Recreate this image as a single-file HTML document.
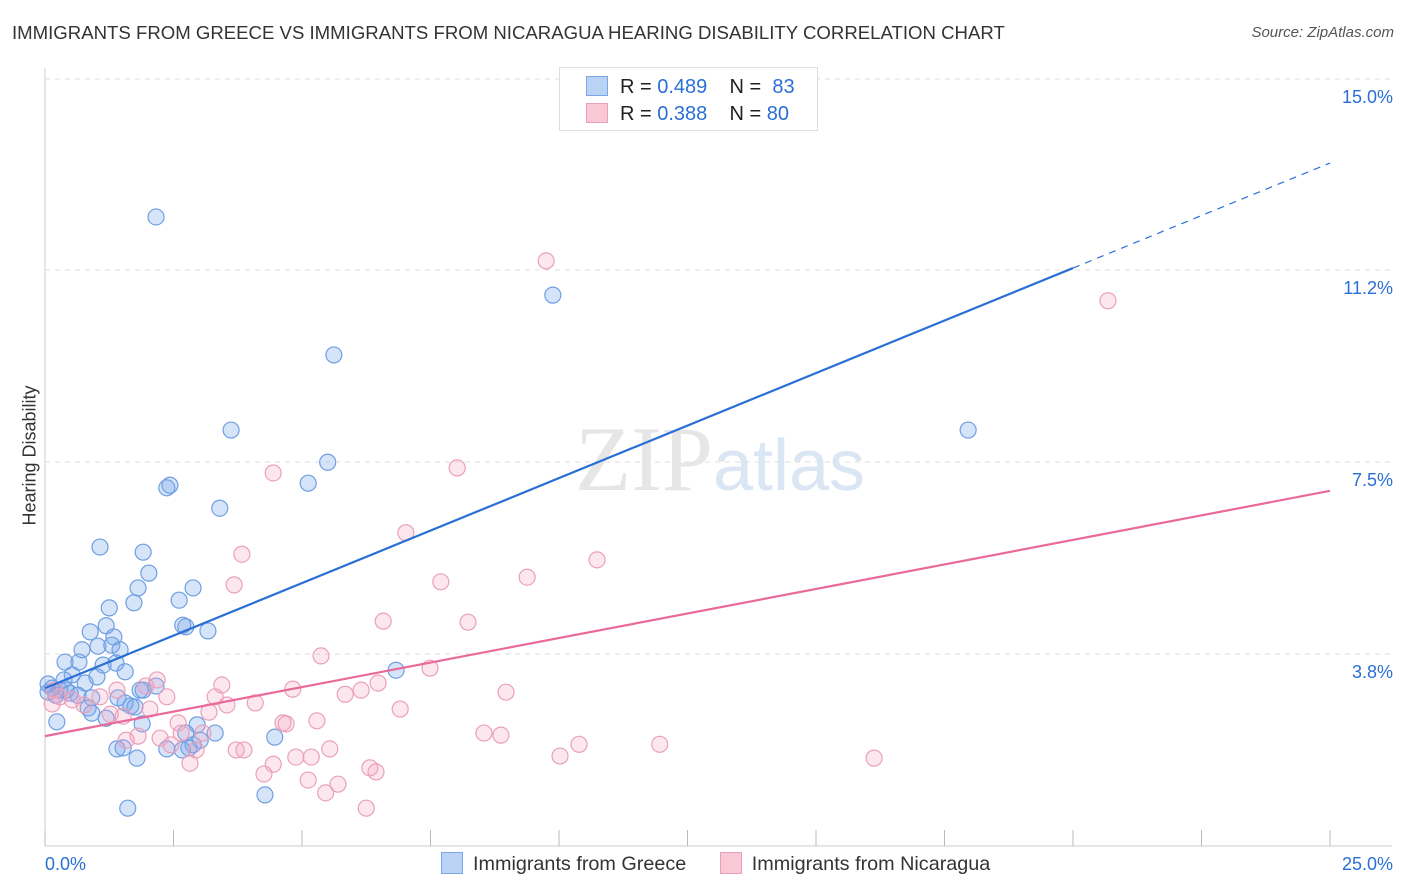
<!DOCTYPE html>
<html><head><meta charset="utf-8"><style>
body{margin:0;background:#fff;font-family:"Liberation Sans",sans-serif;}
#wrap{position:relative;width:1406px;height:892px;overflow:hidden;}
.t{position:absolute;white-space:nowrap;}
</style></head><body>
<div id="wrap">
<div class="t" style="left:12px;top:22px;font-size:18.6px;color:#333;">IMMIGRANTS FROM GREECE VS IMMIGRANTS FROM NICARAGUA HEARING DISABILITY CORRELATION CHART</div>
<div class="t" style="right:12px;top:24px;font-size:15px;color:#555;font-style:italic;">Source: ZipAtlas.com</div>
<div class="t" style="left:-40px;top:445px;font-size:18px;color:#333;transform:rotate(-90deg);">Hearing Disability</div>
<svg id="svg" width="1406" height="892" style="position:absolute;left:0;top:0"></svg>
<div style="position:absolute;left:559px;top:67px;width:257px;height:62px;border:1px solid #ddd;background:#fff;">
 <div style="position:absolute;left:26px;top:8px;font-size:20px;color:#222;"><span style="display:inline-block;width:20px;height:18px;background:#b9d2f5;border:1px solid #7aa6e6;vertical-align:-3px;margin-right:12px"></span>R = <span style="color:#2a6fd6">0.489</span>&nbsp;&nbsp;&nbsp; N = &nbsp;<span style="color:#2a6fd6">83</span></div>
 <div style="position:absolute;left:26px;top:35px;font-size:20px;color:#222;"><span style="display:inline-block;width:20px;height:18px;background:#f8c8d6;border:1px solid #eba0b8;vertical-align:-3px;margin-right:12px"></span>R = <span style="color:#2a6fd6">0.388</span>&nbsp;&nbsp;&nbsp; N = <span style="color:#2a6fd6">80</span></div>
</div>
<div class="t" style="left:441px;top:852px;font-size:19.8px;color:#333;">
<span><span style="display:inline-block;width:20px;height:20px;background:#b9d2f5;border:1px solid #7aa6e6;vertical-align:-4px;margin-right:10px"></span>Immigrants from Greece</span>
<span style="margin-left:28px"><span style="display:inline-block;width:20px;height:20px;background:#f8c8d6;border:1px solid #eba0b8;vertical-align:-4px;margin-right:10px"></span>Immigrants from Nicaragua</span>
</div>
</div>
<script>
const greeceX=[2.16,9.88,5.62,17.96,3.62,5.50,2.43,5.12,2.37,3.40,1.07,1.91,2.02,1.81,2.88,2.61,1.73,1.25,1.19,2.68,2.74,3.17,0.88,1.34,1.03,0.72,1.30,1.46,0.39,0.66,1.13,1.38,6.83,1.56,0.53,1.01,0.37,0.78,0.14,0.29,0.06,0.21,0.49,0.64,0.41,2.16,1.85,1.91,1.42,0.91,1.56,1.75,1.67,0.84,0.91,1.19,1.89,2.96,0.23,2.74,3.31,4.47,3.02,2.88,2.80,2.37,1.40,1.52,2.67,1.79,4.28,1.61,0.06];
const greeceY=[12.31,10.78,9.61,8.14,8.14,7.51,7.06,7.10,7.01,6.61,5.85,5.75,5.34,5.05,5.05,4.81,4.76,4.66,4.31,4.32,4.29,4.21,4.19,4.09,3.91,3.84,3.93,3.84,3.60,3.60,3.54,3.58,3.44,3.41,3.35,3.31,3.25,3.19,3.09,3.05,3.01,2.95,2.99,2.95,3.05,3.13,3.05,3.05,2.90,2.90,2.80,2.72,2.74,2.70,2.60,2.50,2.39,2.37,2.43,2.21,2.21,2.13,2.07,1.98,1.92,1.90,1.90,1.92,1.88,1.72,1.00,0.74,3.17];
const nicX=[9.75,20.68,8.02,4.44,7.02,3.83,10.74,9.38,7.70,3.68,6.58,8.23,5.37,7.49,6.48,3.44,8.97,4.82,5.84,6.15,2.18,1.96,3.31,2.37,1.40,1.07,3.54,4.09,6.91,3.19,2.04,1.52,1.27,0.29,0.53,0.76,0.14,2.59,4.63,5.29,4.69,3.07,1.81,2.65,2.24,1.58,8.54,8.87,10.39,11.96,3.72,3.87,5.54,2.94,2.45,4.88,5.18,4.44,2.82,10.02,16.13,6.32,6.44,4.26,5.12,5.70,5.46,6.25,0.18];
const nicY=[11.45,10.67,7.40,7.30,6.13,5.71,5.60,5.26,5.17,5.11,4.40,4.38,3.72,3.48,3.19,3.15,3.01,3.07,2.97,3.05,3.25,3.13,2.92,2.92,3.05,2.92,2.76,2.80,2.68,2.62,2.68,2.54,2.58,2.92,2.86,2.76,2.78,2.41,2.41,2.45,2.39,2.21,2.15,2.21,2.11,2.07,2.21,2.17,1.99,1.99,1.88,1.88,1.90,1.88,1.98,1.74,1.74,1.60,1.62,1.76,1.72,1.53,1.45,1.41,1.29,1.21,1.04,0.74,3.05];
const yTicks=[3.8,7.5,11.2,15.0];
const yTickLabels=["3.8%","7.5%","11.2%","15.0%"];
const blueLine=[3.09,0.4110]; // intercept, slope
const pinkLine=[2.15,0.192];
const blueSolidEnd=20;
const X=v=>45+v*51.4, Y=v=>846-v*51.1;
const NS="http://www.w3.org/2000/svg", svg=document.getElementById('svg');
function mk(t,a){const e=document.createElementNS(NS,t);for(const k in a)e.setAttribute(k,a[k]);svg.appendChild(e);return e;}
const yPix=[654,462,270,79];
yTicks.forEach((v,i)=>{
 const g=mk('line',{x1:45,x2:1392,y1:yPix[i],y2:yPix[i],stroke:'#ddd','stroke-dasharray':'5,5'});
 
 
 const t=mk('text',{x:1393,y:yPix[i]+24,'text-anchor':'end','font-size':18,fill:'#2a6fd6','font-family':'Liberation Sans'});
 t.textContent=yTickLabels[i];
 
 
});
const ax=mk('line',{x1:45,x2:45,y1:68,y2:846,stroke:'#ccc'});


const bx=mk('line',{x1:45,x2:1392,y1:846,y2:846,stroke:'#ccc'});


for(let i=0;i<=10;i++){const tk=mk('line',{x1:X(i*2.5),x2:X(i*2.5),y1:830,y2:846,stroke:'#bbb'});
 
 }
[["0.0%",45,'start'],["25.0%",1393,'end']].forEach(a=>{const t=mk('text',{x:a[1],y:870,'text-anchor':a[2],'font-size':18,fill:'#2a6fd6','font-family':'Liberation Sans'});t.textContent=a[0];
 
 });
const wm=mk('text',{x:720,y:490,'text-anchor':'middle','font-size':92,'font-family':'Liberation Serif',fill:'#e6e6e6'});
wm.innerHTML='ZIP<tspan font-family="Liberation Sans" fill="#dbe6f5" font-size="72">atlas</tspan>';


greeceX.forEach((x,i)=>{const c=mk('circle',{cx:X(x),cy:Y(greeceY[i]),r:8,fill:'rgba(120,165,235,0.3)',stroke:'#6f9fe2','stroke-width':1.2});
 
 });
nicX.forEach((x,i)=>{const c=mk('circle',{cx:X(x),cy:Y(nicY[i]),r:8,fill:'rgba(245,160,190,0.25)',stroke:'#eba0b8','stroke-width':1.2});
 
 });
const bl=mk('line',{x1:X(0),y1:Y(blueLine[0]),x2:X(blueSolidEnd),y2:Y(blueLine[0]+blueLine[1]*blueSolidEnd),stroke:'#2a6fd6','stroke-width':2.2});


const bd=mk('line',{x1:X(blueSolidEnd),y1:Y(blueLine[0]+blueLine[1]*blueSolidEnd),x2:X(25),y2:Y(blueLine[0]+blueLine[1]*25),stroke:'#2a6fd6','stroke-width':1.2,'stroke-dasharray':'7,6'});


const pl=mk('line',{x1:X(0),y1:Y(pinkLine[0]),x2:X(25),y2:Y(pinkLine[0]+pinkLine[1]*25),stroke:'#e8699a','stroke-width':2.2});


</script>
</body></html>
